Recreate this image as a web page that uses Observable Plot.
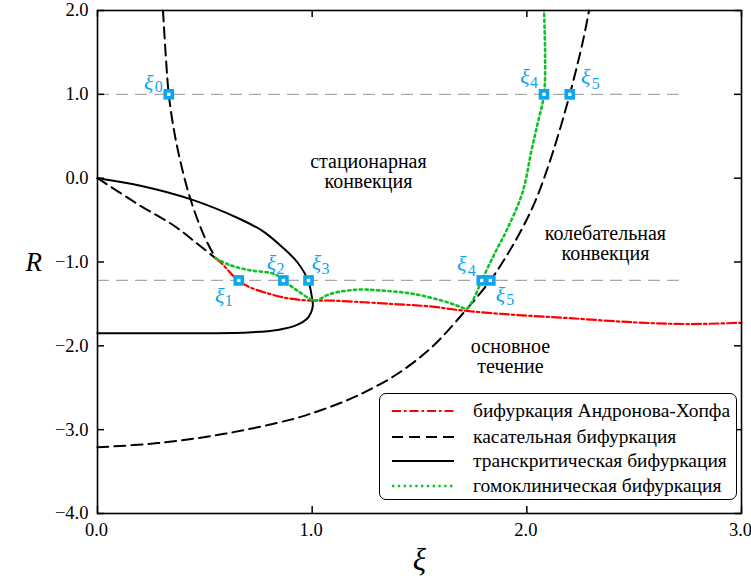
<!DOCTYPE html>
<html><head><meta charset="utf-8">
<script src="https://cdn.jsdelivr.net/npm/d3@7"></script>
<script src="https://cdn.jsdelivr.net/npm/@observablehq/plot@0.6"></script>
<style>
body{margin:0;background:#fff;}
#wrap{position:relative;width:751px;height:585px;font-family:"Liberation Serif","DejaVu Serif",serif;}
#legend{position:absolute;left:379px;top:393px;width:358px;height:107px;border:1px solid #000;border-radius:7px;background:#fff;box-sizing:border-box;font-family:"Liberation Serif","DejaVu Serif",serif;}
.row{position:absolute;left:12px;height:24px;display:flex;align-items:center;font-size:19.5px;white-space:nowrap;}
.row svg{margin-right:19px;}
</style></head>
<body><div id="wrap"></div>
<script>
// ---- data ----
const xTicks = [0, 1, 2, 3];
const yTicks = [-4, -3, -2, -1, 0, 1, 2];

// Hopf bifurcation (red dash-dot)
const hopfXi = [0.55, 0.58, 0.605, 0.63, 0.658, 0.70, 0.775, 0.88, 0.99, 1.085, 1.24, 1.40, 1.55, 1.705, 1.94, 2.2, 2.5, 2.75, 3.0];
const hopfR  = [-0.955, -1.02, -1.09, -1.16, -1.22, -1.29, -1.36, -1.43, -1.46, -1.46, -1.48, -1.505, -1.53, -1.58, -1.63, -1.67, -1.72, -1.74, -1.725];

// tangent (saddle-node) bifurcation, left part: from top down to cusp
const tanAXi = [0.305, 0.32, 0.332, 0.355, 0.387, 0.433, 0.495, 0.55];
const tanAR  = [2.0, 1.385, 1.0, 0.59, 0.19, -0.25, -0.68, -0.955];
// from origin to cusp
const tanBXi = [0, 0.2, 0.355, 0.464, 0.55];
const tanBR  = [0, -0.33, -0.565, -0.78, -0.955];
// right branch
const tanCXi = [0, 0.28, 0.59, 0.9, 1.05, 1.18, 1.27, 1.40, 1.556, 1.714, 1.83, 1.90, 1.97, 2.04, 2.12, 2.20, 2.26, 2.29];
const tanCR  = [-3.21, -3.16, -3.05, -2.88, -2.76, -2.63, -2.52, -2.33, -2.02, -1.58, -1.22, -0.95, -0.64, -0.27, 0.3, 1.0, 1.62, 2.0];

// transcritical bifurcation (solid)
const transXi = [0, 0.2, 0.433, 0.666, 0.775, 0.868, 0.93, 0.981, 1.0, 1.003, 0.995, 0.975, 0.93, 0.84, 0.70, 0.4, 0];
const transR  = [0, -0.09, -0.25, -0.49, -0.64, -0.84, -1.0, -1.22, -1.44, -1.52, -1.6, -1.68, -1.75, -1.81, -1.84, -1.85, -1.85];

// homoclinic bifurcation (green dotted)
const homXi = [0.55, 0.62, 0.713, 0.806, 0.837, 0.866, 0.93, 0.99, 1.015, 1.085, 1.21, 1.32, 1.47, 1.63, 1.705, 1.72, 1.75, 1.79, 1.85, 1.91, 1.98, 2.02, 2.05, 2.08, 2.085, 2.08];
const homR  = [-0.955, -1.04, -1.10, -1.13, -1.16, -1.22, -1.34, -1.44, -1.46, -1.38, -1.33, -1.34, -1.38, -1.48, -1.55, -1.56, -1.45, -1.22, -0.9, -0.6, -0.17, 0.31, 0.65, 1.0, 1.5, 2.0];

// reference levels (gray dashed)
const refLevels = [1.0, -1.22];
const refXiEnd = 2.71;

// markers xi_i
const markerXi  = [0.332, 2.08, 2.20, 0.658, 0.866, 0.983, 1.79, 1.83];
const markerR   = [1.0, 1.0, 1.0, -1.22, -1.22, -1.22, -1.22, -1.22];
const markerSub = ["0", "4", "5", "1", "2", "3", "4", "5"];

// region labels
const regionText = ["стационарная\nконвекция", "колебательная\nконвекция", "основное\nтечение"];
const regionXi = [1.262, 2.366, 1.924];
const regionR  = [0.08, -0.78, -2.13];

const legendNames = ["бифуркация Андронова-Хопфа", "касательная бифуркация", "транскритическая бифуркация", "гомоклиническая бифуркация"];

// ---- layout / style ----
const FONT = '"Liberation Serif", "DejaVu Serif", serif';
const RED = "#ff0000", GREEN = "#12c12a", CYAN = "#0aa6f2";
const labelOffsets = [
  [-20, -11, -10, -7], [-19, -17, -10, -11], [16, -17, 26, -10],
  [-19, 16, -10, 20], [-12, -17, -3, -12], [8, -17, 17, -12],
  [-20, -16, -10, -10], [10, 15, 20, 19]
];

const toRows = (xs, ys, z) => xs.map((x, i) => ({x, y: ys[i], z}));
const hopf = toRows(hopfXi, hopfR, "h");
const tang = [...toRows(tanAXi, tanAR, "a"), ...toRows(tanBXi, tanBR, "b"), ...toRows(tanCXi, tanCR, "c")];
const trans = toRows(transXi, transR, "t");
const hom = toRows(homXi, homR, "g");
const markers = markerXi.map((x, i) => ({x, y: markerR[i], s: markerSub[i]}));
const regions = regionText.map((t, i) => ({x: regionXi[i], y: regionR[i], t}));

const fmt = d => d.toFixed(1).replace("-", "\u2212");

const labelMarks = [];
markers.forEach((m, i) => {
  const o = labelOffsets[i];
  labelMarks.push(Plot.text([m], {x: "x", y: "y", text: () => "ξ", dx: o[0], dy: o[1], fill: CYAN, fontSize: 22, fontStyle: "italic", fontFamily: FONT}));
  labelMarks.push(Plot.text([m], {x: "x", y: "y", text: "s", dx: o[2], dy: o[3], fill: CYAN, fontSize: 16, fontFamily: FONT}));
});

const chart = Plot.plot({
  width: 751, height: 585,
  marginLeft: 97, marginRight: 10, marginTop: 10, marginBottom: 72,
  style: {fontFamily: FONT, fontSize: "19px", background: "white", overflow: "visible"},
  x: {domain: [0, 3]},
  y: {domain: [-4, 2]},
  marks: [
    Plot.ruleY(refLevels, {x1: 0, x2: refXiEnd, stroke: "#a8a8a8", strokeWidth: 1.3, strokeDasharray: "12,7"}),
    Plot.line(trans, {x: "x", y: "y", z: "z", curve: "catmull-rom", stroke: "black", strokeWidth: 2}),
    Plot.line(tang, {x: "x", y: "y", z: "z", curve: "catmull-rom", stroke: "black", strokeWidth: 2, strokeDasharray: "11,6"}),
    Plot.line(hopf, {x: "x", y: "y", z: "z", curve: "catmull-rom", stroke: RED, strokeWidth: 2.2, strokeDasharray: "9,3,2.5,3"}),
    Plot.line(hom, {x: "x", y: "y", z: "z", curve: "catmull-rom", stroke: GREEN, strokeWidth: 2.6, strokeDasharray: "2.4,3.4"}),
    Plot.dot(markers, {x: "x", y: "y", symbol: "square", r: 6, fill: CYAN, stroke: "none"}),
    Plot.dot(markers, {x: "x", y: "y", symbol: "square", r: 1.9, fill: "white", stroke: "none"}),
    ...labelMarks,
    Plot.text(regions, {x: "x", y: "y", text: "t", fontSize: 20, lineHeight: 1.0, fill: "black", fontFamily: FONT}),
    Plot.tickX(xTicks, {x: d => d, insetTop: 496, stroke: "black", strokeWidth: 1.5}),
    Plot.tickX(xTicks, {x: d => d, insetBottom: 496, stroke: "black", strokeWidth: 1.5}),
    Plot.tickY(yTicks, {y: d => d, insetRight: 637, stroke: "black", strokeWidth: 1.5}),
    Plot.tickY(yTicks, {y: d => d, insetLeft: 637, stroke: "black", strokeWidth: 1.5}),
    Plot.axisX(xTicks, {tickSize: 0, tickPadding: 9, tickFormat: fmt, label: null, fontSize: 18.5, dx: -1, fontFamily: FONT}),
    Plot.axisY(yTicks, {tickSize: 0, tickPadding: 9, tickFormat: fmt, label: null, fontSize: 18.5, fontFamily: FONT}),
    Plot.frame({stroke: "black", strokeWidth: 1.6}),
    Plot.text(["R"], {frameAnchor: "left", dx: -72, text: d => d, fontSize: 27, fontStyle: "italic", fontFamily: FONT}),
    Plot.text(["ξ"], {frameAnchor: "bottom", dy: 56, text: d => d, fontSize: 31, fontStyle: "italic", fontFamily: FONT})
  ]
});

const wrap = document.getElementById("wrap");
wrap.appendChild(chart);

// legend
const legendStyles = [
  {stroke: RED, dash: "9,3,2.5,3", w: 2.2},
  {stroke: "black", dash: "11,6", w: 2},
  {stroke: "black", dash: "", w: 2},
  {stroke: GREEN, dash: "2.4,3.4", w: 2.6}
];
const legendCenters = [17, 43, 67, 92];
const leg = document.createElement("div");
leg.id = "legend";
legendNames.forEach((name, i) => {
  const s = legendStyles[i];
  const row = document.createElement("div");
  row.className = "row";
  row.style.top = (legendCenters[i] - 12) + "px";
  row.innerHTML = `<svg width="62" height="10"><line x1="0" y1="5" x2="62" y2="5" stroke="${s.stroke}" stroke-width="${s.w}" stroke-dasharray="${s.dash}"/></svg><span>${name}</span>`;
  leg.appendChild(row);
});
wrap.appendChild(leg);
</script>
</body></html>
